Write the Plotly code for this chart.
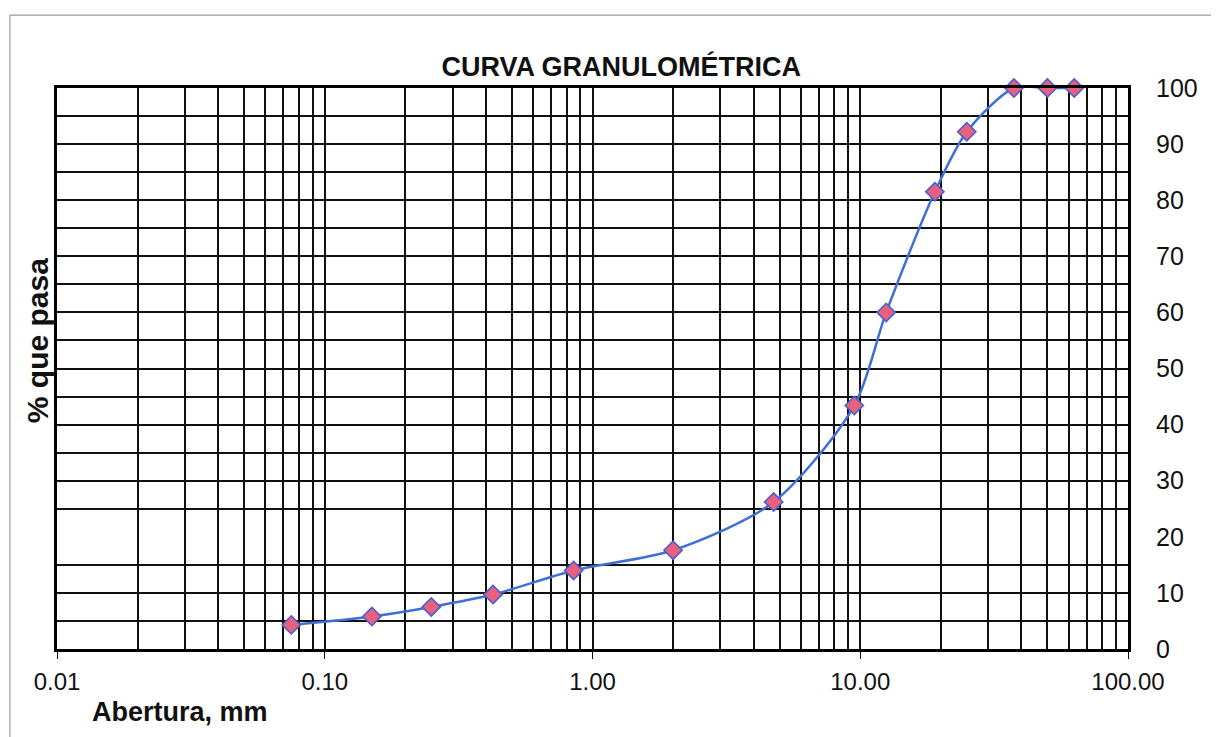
import plotly.graph_objects as go

# Data
abertura_mm = [0.075, 0.15, 0.25, 0.425, 0.85, 2.0, 4.75, 9.5, 12.5, 19.0, 25.0, 37.5, 50.0, 63.0]
pct_pasa = [4.3, 5.8, 7.5, 9.7, 14.0, 17.6, 26.2, 43.4, 60.0, 81.5, 92.2, 100, 100, 100]

x_tickvals = [0.01, 0.1, 1, 10, 100]
x_ticktext = ["0.01", "0.10", "1.00", "10.00", "100.00"]
x_minor = [m * d for d in [0.01, 0.1, 1, 10] for m in range(2, 10)]
y_tickvals = [0, 10, 20, 30, 40, 50, 60, 70, 80, 90, 100]
y_grid = [5, 10, 15, 25, 30, 35, 40, 45, 50, 55, 60, 65, 70, 75, 80, 85, 90, 95]

FONT = "Liberation Sans, Arial, sans-serif"
GRID = "#111111"

fig = go.Figure()
fig.add_trace(go.Scatter(
    x=abertura_mm, y=pct_pasa, mode="lines+markers",
    line=dict(color="#3f6fd6", width=2.5, shape="spline", smoothing=0.8),
    marker=dict(symbol="diamond", size=14, color="#e8607e",
                line=dict(color="#4a5fd0", width=1.6)),
    cliponaxis=False, showlegend=False,
))

fig.update_layout(
    width=1219, height=737,
    margin=dict(l=49, r=99, t=80, b=96, autoexpand=False),
    paper_bgcolor="white", plot_bgcolor="white",
    font=dict(family=FONT, color="#111"),
    title=dict(text="<b>CURVA GRANULOMÉTRICA</b>", x=0.503, xanchor="center",
               yref="container", y=0.92, yanchor="middle",
               font=dict(size=27, family=FONT, color="#111")),
    xaxis=dict(type="log", range=[-2, 2], tickvals=x_tickvals, ticktext=x_ticktext,
               ticks="outside", ticklen=7, tickcolor=GRID, automargin=False,
               showgrid=True, gridcolor=GRID, gridwidth=1.7,
               minor=dict(tickmode="array", tickvals=x_minor, showgrid=True,
                          gridcolor=GRID, gridwidth=1.7, ticks=""),
               showline=True, linecolor="black", linewidth=3, mirror=True,
               tickfont=dict(size=24, family=FONT, color="#111"), ticklabelstandoff=2),
    yaxis=dict(range=[0, 100], side="right", tickvals=y_tickvals, automargin=False,
               showgrid=False, ticks="", zeroline=False,
               minor=dict(tickmode="array", tickvals=y_grid, showgrid=True,
                          gridcolor=GRID, gridwidth=1.7, ticks=""),
               showline=True, linecolor="black", linewidth=3, mirror=True,
               tickfont=dict(size=25, family=FONT, color="#111"), ticklabelstandoff=20),
)

fig.add_annotation(text="<b>% que pasa</b>", xref="paper", yref="paper",
                   x=-0.018, y=0.55, xanchor="center", yanchor="middle", textangle=-90,
                   showarrow=False, font=dict(size=30, family=FONT, color="#111"))
fig.add_annotation(text="<b>Abertura, mm</b>", xref="paper", yref="paper",
                   x=0.031, y=-0.112, xanchor="left", yanchor="middle",
                   showarrow=False, font=dict(size=27, family=FONT, color="#111"))

# thin outer frame of the scanned chart area
fig.add_shape(type="line", xref="paper", yref="paper", x0=-0.044, x1=-0.044, y0=-0.2, y1=1.13,
              line=dict(color="#999", width=1.2))
fig.add_shape(type="line", xref="paper", yref="paper", x0=-0.044, x1=1.2, y0=1.13, y1=1.13,
              line=dict(color="#999", width=1.2))

fig.write_html("out.html")
